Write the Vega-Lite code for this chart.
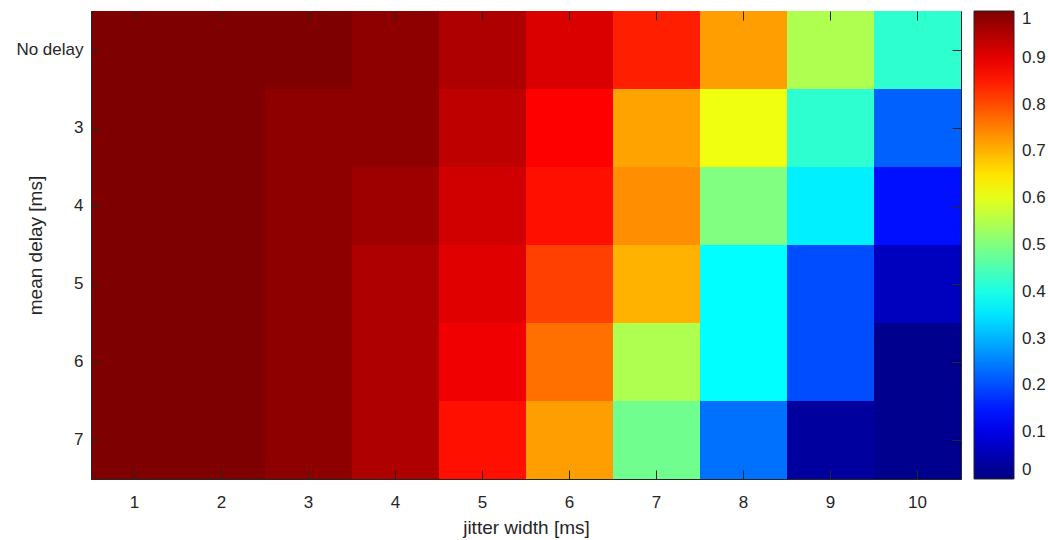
{
  "$schema": "https://vega.github.io/schema/vega-lite/v6.json",
  "autosize": {"type": "none"},
  "padding": {"left": 91, "top": 11, "right": 87, "bottom": 61},
  "width": 870,
  "height": 468,
  "background": "white",
  "config": {
    "font": "Liberation Sans",
    "view": {"stroke": "#262626", "strokeWidth": 1},
    "axis": {
      "labelFont": "Liberation Sans",
      "titleFont": "Liberation Sans",
      "labelFontSize": 17,
      "titleFontSize": 19,
      "labelColor": "#262626",
      "titleColor": "#262626",
      "titleFontWeight": "normal",
      "tickColor": "#262626",
      "domainColor": "#262626",
      "tickSize": -9,
      "tickWidth": 1,
      "grid": false
    },
    "legend": {
      "labelFont": "Liberation Sans",
      "labelFontSize": 17,
      "labelColor": "#262626"
    }
  },
  "data": {
    "values": [
      {"jitter": "1", "delay": "No delay", "value": 1.0},
      {"jitter": "2", "delay": "No delay", "value": 1.0},
      {"jitter": "3", "delay": "No delay", "value": 1.0},
      {"jitter": "4", "delay": "No delay", "value": 0.985},
      {"jitter": "5", "delay": "No delay", "value": 0.953},
      {"jitter": "6", "delay": "No delay", "value": 0.91},
      {"jitter": "7", "delay": "No delay", "value": 0.845},
      {"jitter": "8", "delay": "No delay", "value": 0.72},
      {"jitter": "9", "delay": "No delay", "value": 0.547},
      {"jitter": "10", "delay": "No delay", "value": 0.42},
      {"jitter": "1", "delay": "3", "value": 1.0},
      {"jitter": "2", "delay": "3", "value": 1.0},
      {"jitter": "3", "delay": "3", "value": 0.985},
      {"jitter": "4", "delay": "3", "value": 0.985},
      {"jitter": "5", "delay": "3", "value": 0.9375},
      {"jitter": "6", "delay": "3", "value": 0.875},
      {"jitter": "7", "delay": "3", "value": 0.715},
      {"jitter": "8", "delay": "3", "value": 0.61},
      {"jitter": "9", "delay": "3", "value": 0.42},
      {"jitter": "10", "delay": "3", "value": 0.22},
      {"jitter": "1", "delay": "4", "value": 1.0},
      {"jitter": "2", "delay": "4", "value": 1.0},
      {"jitter": "3", "delay": "4", "value": 0.985},
      {"jitter": "4", "delay": "4", "value": 0.97},
      {"jitter": "5", "delay": "4", "value": 0.92},
      {"jitter": "6", "delay": "4", "value": 0.86},
      {"jitter": "7", "delay": "4", "value": 0.735},
      {"jitter": "8", "delay": "4", "value": 0.5},
      {"jitter": "9", "delay": "4", "value": 0.36},
      {"jitter": "10", "delay": "4", "value": 0.14},
      {"jitter": "1", "delay": "5", "value": 1.0},
      {"jitter": "2", "delay": "5", "value": 1.0},
      {"jitter": "3", "delay": "5", "value": 0.985},
      {"jitter": "4", "delay": "5", "value": 0.953},
      {"jitter": "5", "delay": "5", "value": 0.905},
      {"jitter": "6", "delay": "5", "value": 0.8125},
      {"jitter": "7", "delay": "5", "value": 0.7},
      {"jitter": "8", "delay": "5", "value": 0.375},
      {"jitter": "9", "delay": "5", "value": 0.2},
      {"jitter": "10", "delay": "5", "value": 0.0625},
      {"jitter": "1", "delay": "6", "value": 1.0},
      {"jitter": "2", "delay": "6", "value": 1.0},
      {"jitter": "3", "delay": "6", "value": 0.985},
      {"jitter": "4", "delay": "6", "value": 0.953},
      {"jitter": "5", "delay": "6", "value": 0.89},
      {"jitter": "6", "delay": "6", "value": 0.765},
      {"jitter": "7", "delay": "6", "value": 0.547},
      {"jitter": "8", "delay": "6", "value": 0.375},
      {"jitter": "9", "delay": "6", "value": 0.2},
      {"jitter": "10", "delay": "6", "value": 0.015},
      {"jitter": "1", "delay": "7", "value": 1.0},
      {"jitter": "2", "delay": "7", "value": 1.0},
      {"jitter": "3", "delay": "7", "value": 0.985},
      {"jitter": "4", "delay": "7", "value": 0.953},
      {"jitter": "5", "delay": "7", "value": 0.86},
      {"jitter": "6", "delay": "7", "value": 0.72},
      {"jitter": "7", "delay": "7", "value": 0.485},
      {"jitter": "8", "delay": "7", "value": 0.235},
      {"jitter": "9", "delay": "7", "value": 0.03},
      {"jitter": "10", "delay": "7", "value": 0.015}
    ]
  },
  "layer": [
    {
      "mark": {"type": "rect"},
      "encoding": {
        "x": {
          "field": "jitter", "type": "ordinal",
          "sort": ["1","2","3","4","5","6","7","8","9","10"],
          "scale": {"paddingInner": 0, "paddingOuter": 0},
          "axis": {"orient": "bottom", "title": "jitter width [ms]", "labelAngle": 0, "labelPadding": 24, "titlePadding": 8}
        },
        "y": {
          "field": "delay", "type": "ordinal",
          "sort": ["No delay","3","4","5","6","7"],
          "scale": {"paddingInner": 0, "paddingOuter": 0},
          "axis": {"orient": "left", "title": "mean delay [ms]", "labelPadding": 17, "titlePadding": -30}
        },
        "color": {
          "field": "value", "type": "quantitative",
          "scale": {
            "type": "linear",
            "interpolate": "rgb",
            "domain": [0, 0.125, 0.375, 0.625, 0.875, 1],
            "range": ["#00007F", "#0000FF", "#00FFFF", "#FFFF00", "#FF0000", "#7F0000"]
          },
          "legend": {
            "type": "gradient",
            "title": null,
            "orient": "right",
            "direction": "vertical",
            "offset": 12,
            "gradientLength": 468,
            "gradientThickness": 40,
            "gradientStrokeColor": "#262626",
            "gradientStrokeWidth": 1,
            "labelOffset": 8,
            "labelBaseline": "middle",
            "values": [0, 0.1, 0.2, 0.3, 0.4, 0.5, 0.6, 0.7, 0.8, 0.9, 1],
            "format": ".1~f",
            "labelOverlap": false
          }
        }
      }
    },
    {
      "mark": {"type": "rect", "fillOpacity": 0, "strokeWidth": 0},
      "encoding": {
        "x": {
          "field": "jitter", "type": "ordinal",
          "sort": ["1","2","3","4","5","6","7","8","9","10"],
          "axis": {"orient": "top", "labels": false, "title": null, "domain": false}
        },
        "y": {
          "field": "delay", "type": "ordinal",
          "sort": ["No delay","3","4","5","6","7"],
          "axis": {"orient": "right", "labels": false, "title": null, "domain": false}
        }
      }
    }
  ],
  "resolve": {"axis": {"x": "independent", "y": "independent"}}
}
